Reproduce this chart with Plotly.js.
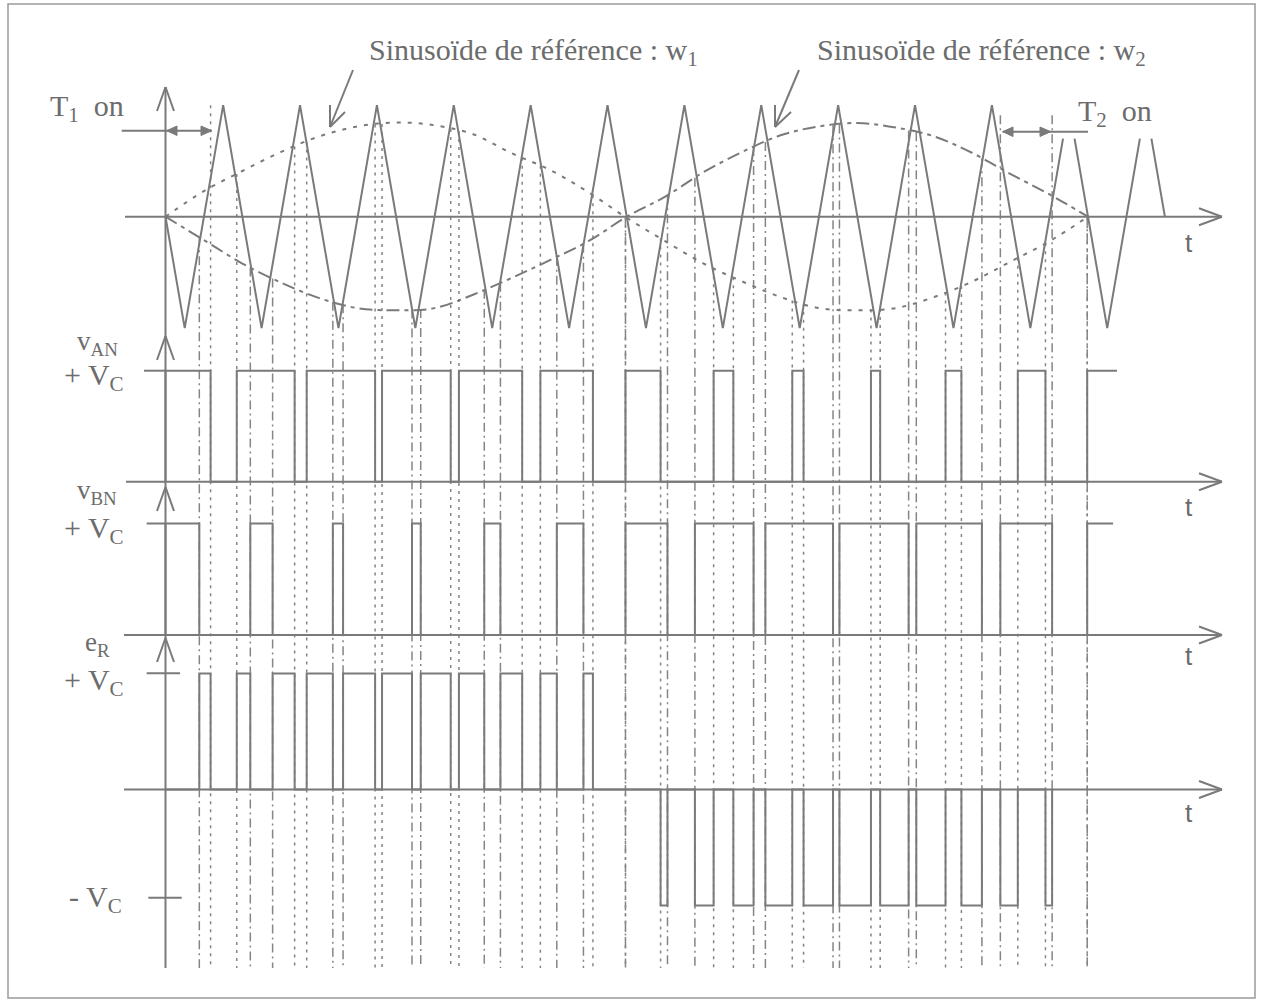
<!DOCTYPE html>
<html><head><meta charset="utf-8">
<script src="https://cdn.plot.ly/plotly-3.0.1.min.js"></script>
<style>html,body{margin:0;padding:0;background:#fff}#chart{width:1264px;height:1002px}</style>
</head><body><div id="chart"></div>
<script>
// ---------- DATA (time axis = electrical angle of the reference sinusoid, degrees) ----------
const sineAngle = [0,15,30,45,60,75,90,105,120,135,150,165,180,195,210,225,240,255,270,285,300,315,330,345,360];
const w1 = [0.00,0.23,0.41,0.58,0.72,0.81,0.845,0.82,0.74,0.57,0.42,0.22,-0.01,-0.22,-0.42,-0.58,-0.72,-0.82,-0.84,-0.82,-0.72,-0.58,-0.40,-0.22,0.00];
const w2 = [0.00,-0.21,-0.42,-0.59,-0.73,-0.82,-0.84,-0.82,-0.70,-0.55,-0.39,-0.22,0.00,0.18,0.40,0.58,0.73,0.81,0.84,0.80,0.72,0.57,0.38,0.20,0.00];

// triangular carrier vertices (null = gap where the peak is cut under the "T2 on" label)
const carrierAngle = [0,7.5,22.5,37.5,52.5,67.5,82.5,97.5,112.5,127.5,142.5,157.5,172.5,187.5,202.5,217.5,232.5,247.5,262.5,277.5,292.5,307.5,322.5,337.5,350.25,null,354.75,367.5,380.25,null,384.75,390];
const carrierLevel = [0,-1,1,-1,1,-1,1,-1,1,-1,1,-1,1,-1,1,-1,1,-1,1,-1,1,-1,1,-1,0.70,null,0.70,-1,0.70,null,0.70,0];

// v_AN : pulses at +Vc (rise, fall); the last pulse is left open at its end
const vanRise = [0,27.8,55.1,84.5,114.5,146.3,179.5,213.9,244.6,275.3,304.4,332.6,359.7];
const vanFall = [17.6,50.4,81.8,111.3,139.2,166.8,193.2,221.6,249.0,278.9,310.6,343.4,371.3];
// v_BN
const vbnRise = [0,33.1,65.3,96.2,124.4,152.7,179.5,206.6,234.1,263.0,293.0,325.8,359.7];
const vbnFall = [13.2,41.8,69.3,99.6,130.7,163.1,195.9,229.5,260.5,290.0,318.6,346.0,369.8];
// e_R = v_AN - v_BN
const erStart = [13.2,27.8,41.8,55.1,69.3,84.5,99.6,114.5,130.7,146.3,163.1,193.2,206.6,221.6,234.1,249.0,263.0,278.9,293.0,310.6,325.8,343.4];
const erEnd   = [17.6,33.1,50.4,65.3,81.8,96.2,111.3,124.4,139.2,152.7,166.8,195.9,213.9,229.5,244.6,260.5,275.3,290.0,304.4,318.6,332.6,346.0];
const erLevel = [1,1,1,1,1,1,1,1,1,1,1,-1,-1,-1,-1,-1,-1,-1,-1,-1,-1,-1];
const erEndAngle = 346.0;

// T1 on : 0 -> 17.6 ; T2 on : 325.8 -> 346.0
const t1Edge = [17.6];
const t2Edges = [325.8, 346.0];

// ---------- LAYOUT GEOMETRY (pixels of the 1264x1002 page) ----------
const W = 1264, H = 1002;
const X0 = 165.5, PXDEG = 2.5625;
const P = {
  top: {zero:216.7, unit:111.5},
  an:  {zero:481.7, unit:111},
  bn:  {zero:635,   unit:111.5},
  er:  {zero:789.5, unit:116}
};
function yr(p){ return [-(H-p.zero)/p.unit, p.zero/p.unit]; }
const xRange = [-X0/PXDEG, (W-X0)/PXDEG];
const guideBottom = (P.top.zero - 968)/P.top.unit;
const COL = '#7a7a7a';
const TXT = '#6c6c6c';

function interp(xs, ys, x){
  for (let i=0;i<xs.length-1;i++){
    if (x>=xs[i] && x<=xs[i+1]){ const f=(x-xs[i])/(xs[i+1]-xs[i]); return ys[i]+f*(ys[i+1]-ys[i]); }
  }
  return 0;
}

function stepTrace(rise, fall, yaxis){
  const x=[], y=[];
  for (let i=0;i<rise.length;i++){
    x.push(rise[i],rise[i],fall[i]); y.push(0,1,1);
    if (i<rise.length-1){ x.push(fall[i]); y.push(0); }
  }
  return {x, y, yaxis, type:'scatter', mode:'lines', line:{color:COL,width:2}, hoverinfo:'skip'};
}

function erTrace(){
  const x=[0], y=[0];
  for (let i=0;i<erStart.length;i++){
    x.push(erStart[i],erStart[i],erEnd[i],erEnd[i]); y.push(0,erLevel[i],erLevel[i],0);
  }
  x.push(erEndAngle); y.push(0);
  return {x, y, yaxis:'y4', type:'scatter', mode:'lines', line:{color:COL,width:2}, hoverinfo:'skip'};
}

// guide lines from the carrier/reference intersection down to the bottom
function guides(edges, ref, special){
  const x=[], y=[];
  edges.forEach(e=>{
    let top = interp(sineAngle, ref, e);
    if (special[e]!==undefined) top = special[e];
    x.push(e,e,null); y.push(top,guideBottom,null);
  });
  return {x,y};
}
const anEdges = vanRise.slice(1).concat(vanFall.slice(0,-1));
const bnEdges = vbnRise.slice(1).concat(vbnFall.slice(0,-1));
const spA = {}; t1Edge.forEach(e=>spA[e]=1.0);
const spB = {}; t2Edges.forEach(e=>spB[e]=0.91);
const gA = guides(anEdges, w1, spA);
const gB = guides(bnEdges, w2, spB);

const traces = [
  {x:gA.x, y:gA.y, yaxis:'y', type:'scatter', mode:'lines', line:{color:'#858585',width:1.5,dash:'3px,5px'}, hoverinfo:'skip'},
  {x:gB.x, y:gB.y, yaxis:'y', type:'scatter', mode:'lines', line:{color:'#858585',width:1.5,dash:'9px,4px,2px,4px'}, hoverinfo:'skip'},
  {x:sineAngle, y:w1, yaxis:'y', type:'scatter', mode:'lines', line:{color:COL,width:2,dash:'4px,7px',shape:'spline'}, hoverinfo:'skip'},
  {x:sineAngle, y:w2, yaxis:'y', type:'scatter', mode:'lines', line:{color:COL,width:2,dash:'13px,5px,4px,5px',shape:'spline'}, hoverinfo:'skip'},
  {x:carrierAngle, y:carrierLevel, yaxis:'y', type:'scatter', mode:'lines', connectgaps:false, line:{color:COL,width:2}, hoverinfo:'skip'},
  stepTrace(vanRise, vanFall, 'y2'),
  stepTrace(vbnRise, vbnFall, 'y3'),
  erTrace()
];

// ---------- decorations in page pixels ----------
const px = x => x/W, py = y => 1 - y/H;
const shapes = [];
function seg(x1,y1,x2,y2,w,c){ shapes.push({type:'line',xref:'paper',yref:'paper',x0:px(x1),y0:py(y1),x1:px(x2),y1:py(y2),line:{color:c||COL,width:w||2}}); }
function tri(pts){ // filled small arrowhead
  const d = 'M ' + pts.map(p=>px(p[0])+','+py(p[1])).join(' L ') + ' Z';
  shapes.push({type:'path',xref:'paper',yref:'paper',path:d,fillcolor:COL,line:{color:COL,width:1}});
}
// border
shapes.push({type:'rect',xref:'paper',yref:'paper',x0:px(8),y0:py(998),x1:px(1255),y1:py(4),line:{color:'#9a9a9a',width:1.5}});
// vertical axis + arrowheads
seg(X0,87,X0,968);
[87,336,487,638].forEach(t=>{ seg(X0,t,X0-8.5,t+24); seg(X0,t,X0+8.5,t+24); });
// horizontal axes
[[P.top.zero,125],[P.an.zero,126],[P.bn.zero,124],[P.er.zero,124]].forEach(a=>{
  seg(a[1],a[0],1222,a[0]); seg(1222,a[0],1199,a[0]-8.5); seg(1222,a[0],1199,a[0]+8.5);
});
// level ticks
seg(144,370.7,X0,370.7); seg(146.7,523.5,X0,523.5);
seg(146.7,673.3,180,673.3); seg(148.3,897.7,181.7,897.7);
// T1 on marker
seg(121.7,130.7,211.7,130.7);
tri([[166.7,130.7],[177,126],[177,135.5]]); tri([[211.7,130.7],[201,126],[201,135.5]]);
// T2 on marker
seg(1002.7,131.7,1088,131.7);
tri([[1002.7,131.7],[1013,127],[1013,136.5]]); tri([[1050.7,131.7],[1040,127],[1040,136.5]]);
// pointers to the sinusoids
seg(353,70,330,127); seg(330,127,330,105); seg(330,127,345,112);
seg(799,70,775,127); seg(775,127,775,105); seg(775,127,791,112);

const serif = {family:'Liberation Serif, Times New Roman, serif', size:30, color:TXT};
const serifS = {family:'Liberation Serif, Times New Roman, serif', size:27, color:TXT};
const sans = {family:'Liberation Sans, Arial, sans-serif', size:26, color:TXT};
function lab(text,x,y,font,xa){ return {text, xref:'paper', yref:'paper', x:px(x), y:py(y), xanchor:xa||'left', yanchor:'middle', showarrow:false, font}; }
const annotations = [
  lab('Sinusoïde de référence : w<sub>1</sub>',367,52,serif),
  lab('Sinusoïde de référence : w<sub>2</sub>',815,52,serif),
  lab('T<sub>1</sub>&nbsp; on',48,108,serif),
  lab('T<sub>2</sub>&nbsp; on',1076,113,serif),
  lab('v<sub>AN</sub>',75,343,serifS),
  lab('+ V<sub>C</sub>',62,377,serif),
  lab('v<sub>BN</sub>',75,492,serifS),
  lab('+ V<sub>C</sub>',62,530,serif),
  lab('e<sub>R</sub>',83,644,serifS),
  lab('+ V<sub>C</sub>',62,682,serif),
  lab('- V<sub>C</sub>',67,899,serif),
  lab('t',1189,243,sans,'center'),
  lab('t',1189,507,sans,'center'),
  lab('t',1189,656,sans,'center'),
  lab('t',1189,813,sans,'center')
];

const ax = r => ({range:r, visible:false, fixedrange:true, showgrid:false, zeroline:false});
const layout = {
  width:W, height:H, margin:{l:0,r:0,t:0,b:0,pad:0},
  paper_bgcolor:'#ffffff', plot_bgcolor:'#ffffff', showlegend:false, hovermode:false,
  xaxis:ax(xRange),
  yaxis:Object.assign(ax(yr(P.top)),{domain:[0,1]}),
  yaxis2:Object.assign(ax(yr(P.an)),{overlaying:'y'}),
  yaxis3:Object.assign(ax(yr(P.bn)),{overlaying:'y'}),
  yaxis4:Object.assign(ax(yr(P.er)),{overlaying:'y'}),
  shapes, annotations
};
Plotly.newPlot('chart', traces, layout, {staticPlot:true, displayModeBar:false});
</script></body></html>
